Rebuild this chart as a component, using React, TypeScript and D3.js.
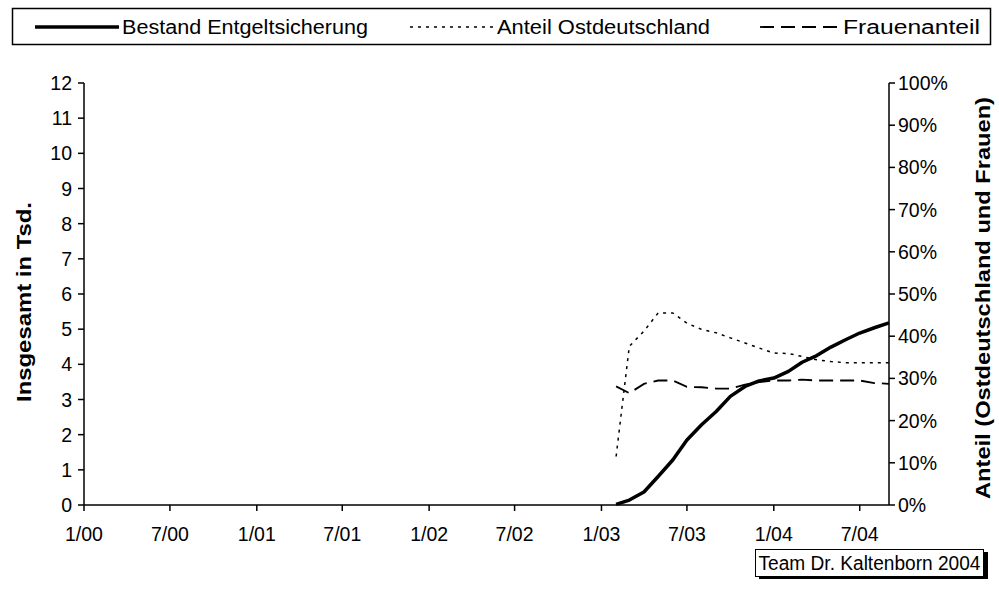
import React, { useEffect, useRef } from "react";
import * as d3 from "d3";

const months = ["2003-02","2003-03","2003-04","2003-05","2003-06","2003-07","2003-08","2003-09","2003-10","2003-11","2003-12","2004-01","2004-02","2004-03","2004-04","2004-05","2004-06","2004-07","2004-08","2004-09"];
const bestand = [0.02, 0.14, 0.37, 0.81, 1.28, 1.85, 2.28, 2.66, 3.09, 3.37, 3.53, 3.61, 3.80, 4.06, 4.25, 4.49, 4.70, 4.89, 5.04, 5.18];
const anteilOst = [11.5, 37.6, 41.2, 45.5, 45.5, 43.1, 41.6, 40.8, 39.6, 38.4, 37.2, 36.0, 35.9, 35.2, 34.4, 34.0, 33.7, 33.7, 33.7, 33.7];
const frauenanteil = [28.1, 26.5, 28.7, 29.5, 29.5, 28.0, 27.9, 27.6, 27.6, 28.5, 29.1, 29.5, 29.5, 29.7, 29.5, 29.5, 29.5, 29.5, 28.9, 28.7];
const xTickLabels = ["1/00","7/00","1/01","7/01","1/02","7/02","1/03","7/03","1/04","7/04"];
const leftTicks = [0,1,2,3,4,5,6,7,8,9,10,11,12];
const rightTicks = [0,10,20,30,40,50,60,70,80,90,100];
const legendLabels = ["Bestand Entgeltsicherung", "Anteil Ostdeutschland", "Frauenanteil"];
const leftTitle = "Insgesamt in Tsd.";
const rightTitle = "Anteil (Ostdeutschland und Frauen)";
const footer = "Team Dr. Kaltenborn 2004";

const FONT = "'Liberation Sans', Arial, sans-serif";

export default function App() {
  const ref = useRef<SVGSVGElement>(null);
  useEffect(() => {
    const svg = d3.select(ref.current);
    svg.selectAll("*").remove();
    const W = 999, H = 591;
    const L = 84, R = 889, T = 83, B = 505;
    const parse = d3.timeParse("%Y-%m");
    const x = d3.scaleTime().domain([new Date(2000,0,1), new Date(2004,8,1)]).range([L, R]);
    const yL = d3.scaleLinear().domain([0,12]).range([B, T]);
    const yR = d3.scaleLinear().domain([0,100]).range([B, T]);
    svg.append("rect").attr("width", W).attr("height", H).attr("fill", "#fff");

    // legend
    const lg = svg.append("g");
    lg.append("rect").attr("x", 12.5).attr("y", 8.5).attr("width", 978).attr("height", 36)
      .attr("fill", "#fff").attr("stroke", "#000").attr("stroke-width", 1.5);
    const legendItems = [
      { x1: 35, x2: 119, tx: 122, w: 3.5, dash: null, tl: 246 },
      { x1: 410, x2: 493, tx: 497, w: 1.5, dash: "3,5", tl: 213 },
      { x1: 760, x2: 840, tx: 843, w: 1.8, dash: "14,7", tl: 137 },
    ];
    legendItems.forEach((it, i) => {
      lg.append("line").attr("x1", it.x1).attr("x2", it.x2).attr("y1", 27).attr("y2", 27)
        .attr("stroke", "#000").attr("stroke-width", it.w).attr("stroke-dasharray", it.dash);
      lg.append("text").attr("x", it.tx).attr("y", 34).attr("font-family", FONT).attr("font-size", 20)
        .attr("textLength", it.tl).attr("lengthAdjust", "spacingAndGlyphs").text(legendLabels[i]);
    });

    // axes
    const ax = svg.append("g").attr("stroke", "#000").attr("stroke-width", 1.5);
    ax.append("line").attr("x1", L).attr("x2", L).attr("y1", T).attr("y2", B);
    ax.append("line").attr("x1", R).attr("x2", R).attr("y1", T).attr("y2", B);
    ax.append("line").attr("x1", L).attr("x2", R).attr("y1", B).attr("y2", B);
    leftTicks.forEach(v => {
      ax.append("line").attr("x1", L - 6).attr("x2", L).attr("y1", yL(v)).attr("y2", yL(v));
      svg.append("text").attr("x", L - 12).attr("y", yL(v) + 7).attr("text-anchor", "end")
        .attr("font-family", FONT).attr("font-size", 19.5).text(String(v));
    });
    rightTicks.forEach(v => {
      ax.append("line").attr("x1", R).attr("x2", R + 6).attr("y1", yR(v)).attr("y2", yR(v));
      svg.append("text").attr("x", R + 9).attr("y", yR(v) + 7).attr("text-anchor", "start")
        .attr("font-family", FONT).attr("font-size", 19.5).text(v + "%");
    });
    xTickLabels.forEach(lbl => {
      const [m, yy] = lbl.split("/");
      const d = new Date(2000 + (+yy), +m - 1, 1);
      const px = x(d);
      ax.append("line").attr("x1", px).attr("x2", px).attr("y1", B).attr("y2", B + 6);
      svg.append("text").attr("x", px).attr("y", B + 36).attr("text-anchor", "middle")
        .attr("font-family", FONT).attr("font-size", 19.5).text(lbl);
    });

    // titles
    svg.append("text").attr("transform", `translate(31, 302) rotate(-90)`)
      .attr("text-anchor", "middle").attr("font-family", FONT).attr("font-size", 20).attr("font-weight", "bold")
      .attr("textLength", 200).attr("lengthAdjust", "spacingAndGlyphs")
      .text(leftTitle);
    svg.append("text").attr("transform", `translate(990, ${(T + B) / 2 + 4}) rotate(-90)`)
      .attr("text-anchor", "middle").attr("font-family", FONT).attr("font-size", 20).attr("font-weight", "bold")
      .attr("textLength", 402).attr("lengthAdjust", "spacingAndGlyphs")
      .text(rightTitle);

    // lines
    const dates = months.map(m => parse(m) as Date);
    const lineL = d3.line<number>().x((_, i) => x(dates[i])).y(v => yL(v));
    const lineR = d3.line<number>().x((_, i) => x(dates[i])).y(v => yR(v));
    svg.append("path").attr("d", lineR(frauenanteil)).attr("fill", "none").attr("stroke", "#000")
      .attr("stroke-width", 1.8).attr("stroke-dasharray", "14,7");
    svg.append("path").attr("d", lineR(anteilOst)).attr("fill", "none").attr("stroke", "#000")
      .attr("stroke-width", 1.5).attr("stroke-dasharray", "3,5");
    svg.append("path").attr("d", lineL(bestand)).attr("fill", "none").attr("stroke", "#000")
      .attr("stroke-width", 3.5).attr("stroke-linejoin", "round");

    // footer
    const fg = svg.append("g");
    fg.append("rect").attr("x", 759).attr("y", 552).attr("width", 229).attr("height", 27).attr("fill", "#000");
    fg.append("rect").attr("x", 755.5).attr("y", 549.5).attr("width", 228).attr("height", 27)
      .attr("fill", "#fff").attr("stroke", "#000").attr("stroke-width", 1);
    fg.append("text").attr("x", 869.5).attr("y", 570).attr("text-anchor", "middle")
      .attr("font-family", FONT).attr("font-size", 19.5).attr("textLength", 222).attr("lengthAdjust", "spacingAndGlyphs")
      .text(footer);
  }, []);
  return (
    <svg ref={ref} width={999} height={591} style={{ display: "block", position: "absolute", left: 0, top: 0 }} />
  );
}
